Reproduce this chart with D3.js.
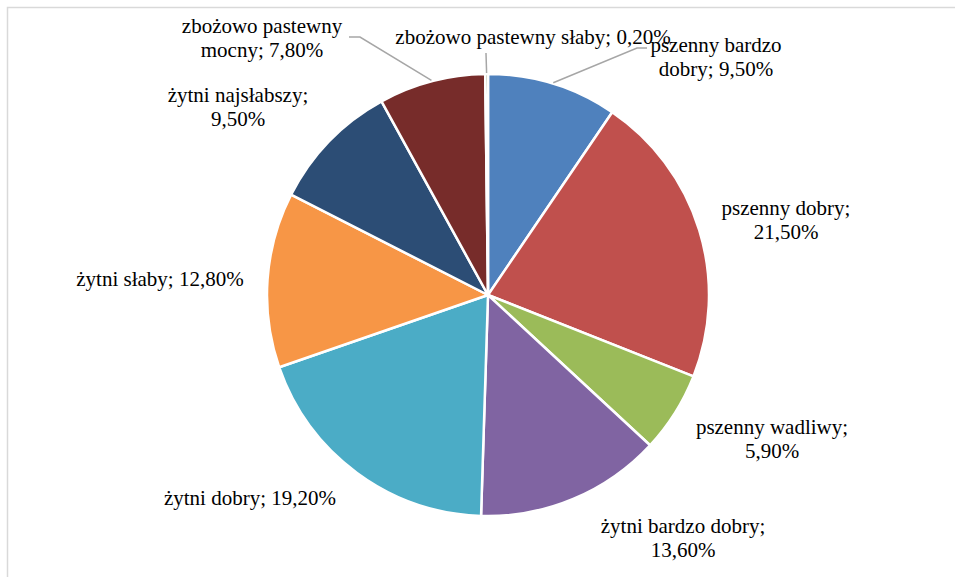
<!DOCTYPE html>
<html>
<head>
<meta charset="utf-8">
<script src="https://cdn.jsdelivr.net/npm/d3@7"></script>
<style>
  body { margin: 0; background: #fff; }
  .lbl { font-family: "Liberation Serif", "Times New Roman", Tinos; font-size: 21px; fill: #000; }
</style>
</head>
<body>
<script>
// chart data (clockwise from 12 o'clock)
const categories = [
	"pszenny bardzo dobry",
	"pszenny dobry",
	"pszenny wadliwy",
	"żytni bardzo dobry",
	"żytni dobry",
	"żytni słaby",
	"żytni najsłabszy",
	"zbożowo pastewny mocny",
	"zbożowo pastewny słaby"
];
const shares = [9.5, 21.5, 5.9, 13.6, 19.2, 12.8, 9.5, 7.8, 0.2];
const colors = ["#4F81BD", "#C0504D", "#9BBB59", "#8064A2", "#4BACC6",
	"#F79646", "#2C4D75", "#772C2A", "#5F7530"];

// where each label sits: centre x, first baseline, words on line one, leader end points
const labelLayout = [
	{ x: 716, y: 52, wrap: 2, leader: [[637, 48], [647, 48]] },
	{ x: 786, y: 215, wrap: 2 },
	{ x: 772, y: 434, wrap: 2 },
	{ x: 683, y: 533, wrap: 3 },
	{ x: 250, y: 505, wrap: 0 },
	{ x: 160, y: 286, wrap: 0 },
	{ x: 238, y: 102, wrap: 2 },
	{ x: 262, y: 33, wrap: 2, leader: [[360, 37], [349, 37]] },
	{ x: 533, y: 44, wrap: 0, leader: [[486, 53]] }
];

const width = 955,
	height = 577,
	cx = 488,
	cy = 295,
	radius = 221,
	lineGap = 24;

const fmt = v => d3.format(".2f")(v).replace(".", ",") + "%";

let svg = d3.select("body")
	.append("svg")
	.attr("width", width)
	.attr("height", height);

// chart area border (runs off the right and bottom edge)
svg.append("rect")
	.attr("x", 7.5)
	.attr("y", 7.5)
	.attr("width", width + 20)
	.attr("height", height + 20)
	.attr("fill", "none")
	.attr("stroke", "#D9D9D9")
	.attr("stroke-width", 1.5);

let pie = d3.pie()
	.sort(null)
	.value(d => d);

let arc = d3.arc()
	.innerRadius(0)
	.outerRadius(radius);

// zero-width arc on the rim, for leader start points
let rimArc = d3.arc()
	.innerRadius(radius + 1)
	.outerRadius(radius + 1);

const slices = pie(shares);

let g = svg.append("g")
	.attr("transform", `translate(${cx},${cy})`);

g.selectAll("path")
	.data(slices)
	.enter()
	.append("path")
	.attr("d", arc)
	.attr("fill", (d, i) => colors[i])
	.attr("stroke", "#fff")
	.attr("stroke-width", 2.5)
	.attr("stroke-linejoin", "round");

// leader lines from slice edge to label
slices.forEach((d, i) => {
	const lay = labelLayout[i];
	if (!lay.leader) return;
	const p = rimArc.centroid(d);
	const pts = [[cx + p[0], cy + p[1]]].concat(lay.leader);
	svg.append("path")
		.attr("d", d3.line()(pts))
		.attr("fill", "none")
		.attr("stroke", "#A6A6A6")
		.attr("stroke-width", 1.5);
});

// labels, one text element per line
const labelLines = [];
slices.forEach((d, i) => {
	const lay = labelLayout[i];
	const words = (categories[i] + "; " + fmt(shares[i])).split(" ");
	const lines = lay.wrap ? [words.slice(0, lay.wrap).join(" "), words.slice(lay.wrap).join(" ")]
		: [words.join(" ")];
	lines.forEach((ln, k) => labelLines.push({ text: ln, x: lay.x, y: lay.y + k * lineGap }));
});

svg.selectAll("text.lbl")
	.data(labelLines)
	.enter()
	.append("text")
	.attr("class", "lbl")
	.attr("x", d => d.x)
	.attr("y", d => d.y)
	.attr("text-anchor", "middle")
	.attr("font-family", "Liberation Serif")
	.attr("font-size", 21)
	.style("font-family", d => `"Liberation Serif"`)
	.style("font-size", d => "21px")
	.text(d => d.text);
</script>
</body>
</html>
